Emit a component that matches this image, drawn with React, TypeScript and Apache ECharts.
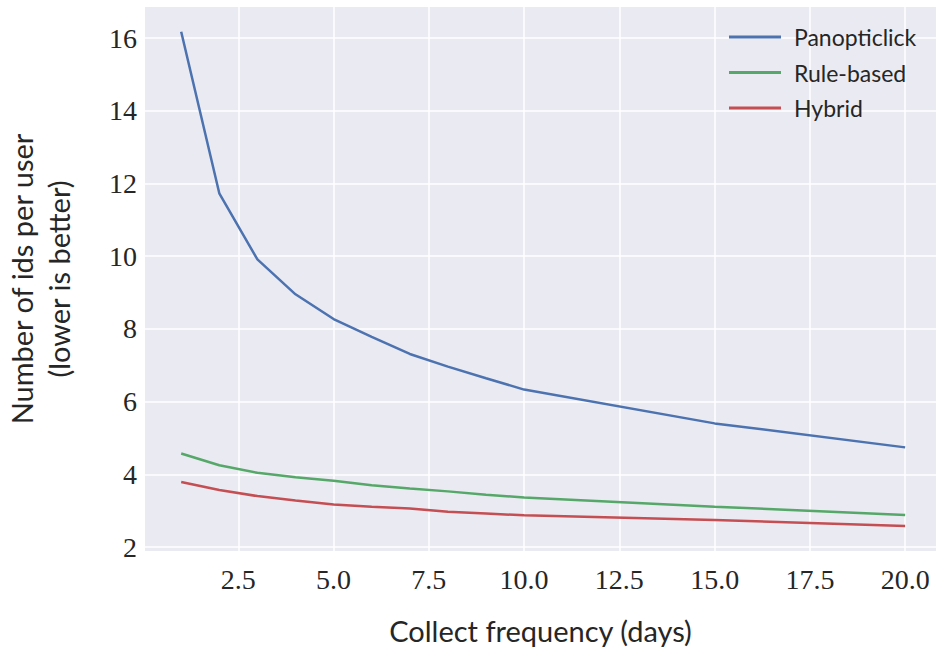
import React, { useEffect, useRef } from "react";
import * as echarts from "echarts";

const days = [1, 2, 3, 4, 5, 6, 7, 8, 9, 10, 15, 20];
const panopticlick = [16.17, 11.73, 9.91, 8.95, 8.27, 7.78, 7.31, 6.96, 6.64, 6.33, 5.4, 4.74];
const ruleBased = [4.57, 4.25, 4.04, 3.92, 3.82, 3.7, 3.61, 3.53, 3.44, 3.36, 3.11, 2.88];
const hybrid = [3.79, 3.57, 3.4, 3.28, 3.17, 3.11, 3.06, 2.97, 2.92, 2.87, 2.74, 2.58];
const xTicks = [2.5, 5.0, 7.5, 10.0, 12.5, 15.0, 17.5, 20.0];
const yTicks = [2, 4, 6, 8, 10, 12, 14, 16];
const seriesNames = ["Panopticlick", "Rule-based", "Hybrid"];
const colors = ["#4C72B0", "#55A868", "#C44E52"];

const zip = (xs: number[], ys: number[]) => xs.map((x, i) => [x, ys[i]]);

export default function App() {
  const ref = useRef<HTMLDivElement>(null);
  useEffect(() => {
    if (!ref.current) return;
    const chart = echarts.init(ref.current, undefined, { renderer: "svg" });
    const tickFont = { fontFamily: "'Liberation Serif', serif", fontSize: 28, color: "#262626" };
    const sansFont = "Lato, 'Open Sans', sans-serif";
    chart.setOption({
      animation: false,
      backgroundColor: "#ffffff",
      color: colors,
      grid: {
        left: 145,
        right: 0,
        top: 7,
        bottom: 99,
        show: true,
        backgroundColor: "#EAEAF2",
        borderWidth: 0,
        containLabel: false,
        outerBoundsMode: "none",
      },
      legend: {
        orient: "vertical",
        left: 724,
        top: 20,
        icon: "rect",
        itemWidth: 52,
        itemHeight: 3,
        itemGap: 11.5,
        data: seriesNames,
        textStyle: { fontFamily: sansFont, fontSize: 23, color: "#262626", lineHeight: 24, padding: [0, 0, 0, 8] },
      },
      xAxis: {
        type: "value",
        min: 0.05,
        max: 20.81,
        name: "Collect frequency (days)",
        nameLocation: "middle",
        nameGap: 65,
        nameTextStyle: { fontFamily: sansFont, fontSize: 29, color: "#262626" },
        axisLine: { show: false },
        axisTick: { show: false, customValues: xTicks },
        axisLabel: {
          customValues: xTicks,
          formatter: (v: number) => v.toFixed(1),
          margin: 14,
          ...tickFont,
        },
        splitLine: { show: true, lineStyle: { color: "#ffffff", width: 1.5 } },
      },
      yAxis: {
        type: "value",
        min: 1.89,
        max: 16.853,
        name: "Number of ids per user\n(lower is better)",
        nameLocation: "middle",
        nameRotate: 90,
        nameGap: 68,
        nameTextStyle: { fontFamily: sansFont, fontSize: 29, color: "#262626", lineHeight: 37 },
        axisLine: { show: false },
        axisTick: { show: false, customValues: yTicks },
        axisLabel: {
          customValues: yTicks,
          formatter: (v: number) => String(v),
          margin: 8,
          ...tickFont,
        },
        splitLine: { show: true, lineStyle: { color: "#ffffff", width: 1.5 } },
      },
      series: [
        { name: seriesNames[0], type: "line", data: zip(days, panopticlick) },
        { name: seriesNames[1], type: "line", data: zip(days, ruleBased) },
        { name: seriesNames[2], type: "line", data: zip(days, hybrid) },
      ].map((s, i) => ({
        ...s,
        showSymbol: false,
        symbol: "none",
        lineStyle: { width: 2.5, color: colors[i] },
        itemStyle: { color: colors[i] },
      })),
    });
    return () => chart.dispose();
  }, []);
  return (
    <div
      ref={ref}
      style={{ position: "fixed", left: 0, top: 0, width: 936, height: 650 }}
    />
  );
}
